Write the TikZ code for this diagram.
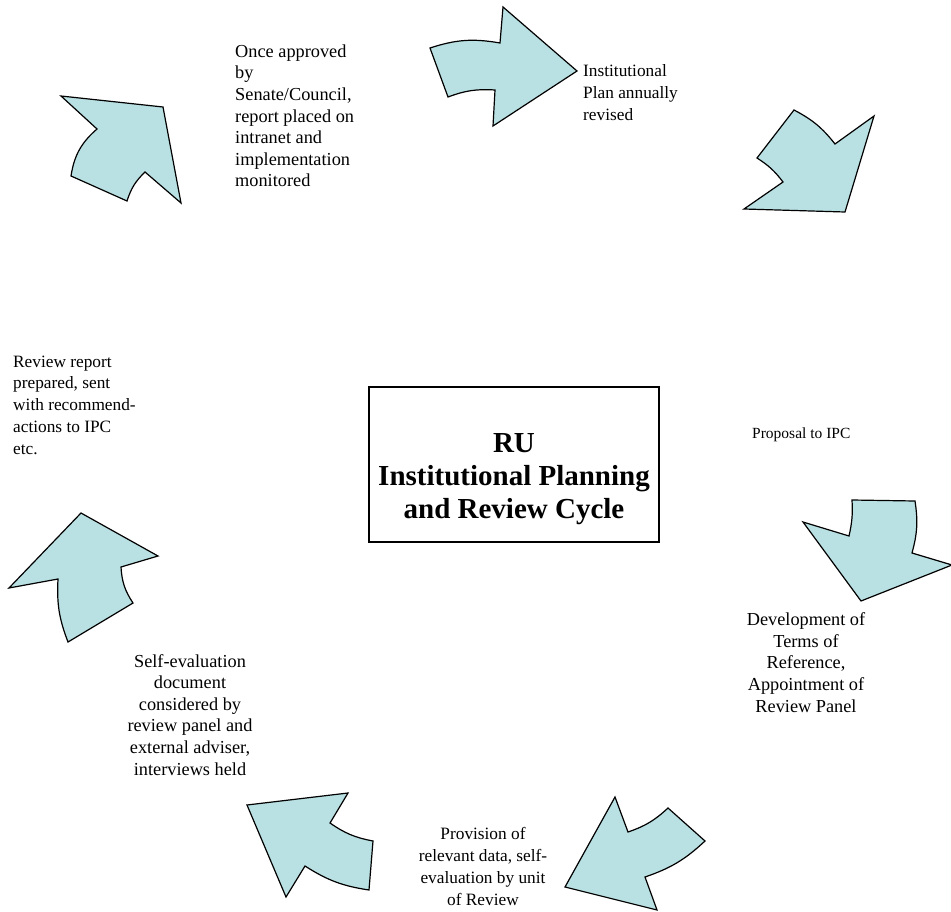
\documentclass[tikz,border=0pt]{standalone}
\usepackage{fontspec}
\setmainfont{Liberation Serif}
\definecolor{arrowfill}{RGB}{185,224,227}
\begin{document}
\begin{tikzpicture}[x=1pt,y=-1pt,
  cyc/.style={fill=arrowfill, draw=black, line width=1.2pt, line join=miter},
  lab/.style={font=\fontsize{17.3}{21.7}\selectfont, inner sep=0pt},
  labbig/.style={font=\fontsize{18.3}{21.6}\selectfont, inner sep=0pt},
  labsmall/.style={font=\fontsize{15.5}{19}\selectfont, inner sep=0pt},
  titletext/.style={font=\fontsize{29}{33}\selectfont\bfseries, inner sep=0pt, align=center},
  framebox/.style={draw=black, line width=1.3pt, minimum width=290pt, minimum height=155pt, inner sep=0pt}]
\useasboundingbox (0,0) rectangle (951,912);

% arrow 1 (top, pointing right)
\path[cyc] (430,48) to[bend left=14] (500,43) -- (503,7) -- (577,71) -- (493,126) -- (495,90) to[bend right=12] (448,97) -- cycle;
% arrow 2 (top right, pointing down)
\path[cyc] (794,110) to[bend left=12] (835,144) -- (874,116) -- (845,212) -- (744,209) -- (783,182) to[bend right=10] (757,158) -- cycle;
% arrow 3 (top left, pointing up-right)
\path[cyc] (61,96) -- (163,107) -- (181,203) -- (145,172) to[bend right=14] (127,201) -- (71,176) to[bend left=20] (97,129) -- cycle;
% arrow 4 (right, pointing down)
\path[cyc] (852,500) -- (915,501) to[bend left=12] (912,553) -- (952,565) -- (861,601) -- (803,522) -- (849,536) to[bend right=8] cycle;
% arrow 5 (left, pointing up)
\path[cyc] (81,513) -- (158,556) -- (121,567) to[bend right=15] (133,603) -- (68,642) to[bend left=12] (58,579) -- (9,588) -- cycle;
% arrow 6 (bottom left, pointing up-left)
\path[cyc] (247,805) -- (348,793) -- (330,823) to[bend right=12] (373,841) -- (369,890) to[bend left=12] (305,866) -- (286,897) -- cycle;
% arrow 7 (bottom right, pointing left)
\path[cyc] (615,797) -- (628,832) to[bend right=12] (668,808) -- (705,841) to[bend left=12] (645,877) -- (657,910) -- (565,887) -- cycle;

% central box
\node[framebox] (box) at (514,464.5) {};
\node[titletext, anchor=base] (title) at (514,518) {RU\\Institutional Planning\\and Review Cycle};

% labels (base anchor = baseline of last line)
\node[labbig, anchor=base west, align=left] (approved) at (235,187) {Once approved\\by\\Senate/Council,\\report placed on\\intranet and\\implementation\\monitored};
\node[lab, anchor=base west, align=left] (plan) at (583,120.4) {Institutional\\Plan annually\\revised};
\node[labsmall, anchor=base west] (proposal) at (752,438) {Proposal to IPC};
\node[labbig, anchor=base, align=center] (terms) at (806,712) {Development of\\Terms of\\Reference,\\Appointment of\\Review Panel};
\node[lab, anchor=base west, align=left] (report) at (13,454) {Review report\\prepared, sent\\with recommend-\\actions to IPC\\etc.};
\node[labbig, anchor=base, align=center] (selfeval) at (190,775) {Self-evaluation\\document\\considered by\\review panel and\\external adviser,\\interviews held};
\node[lab, anchor=base, align=center] (provision) at (483,905) {Provision of\\relevant data, self-\\evaluation by unit\\of Review};
\end{tikzpicture}
\end{document}
